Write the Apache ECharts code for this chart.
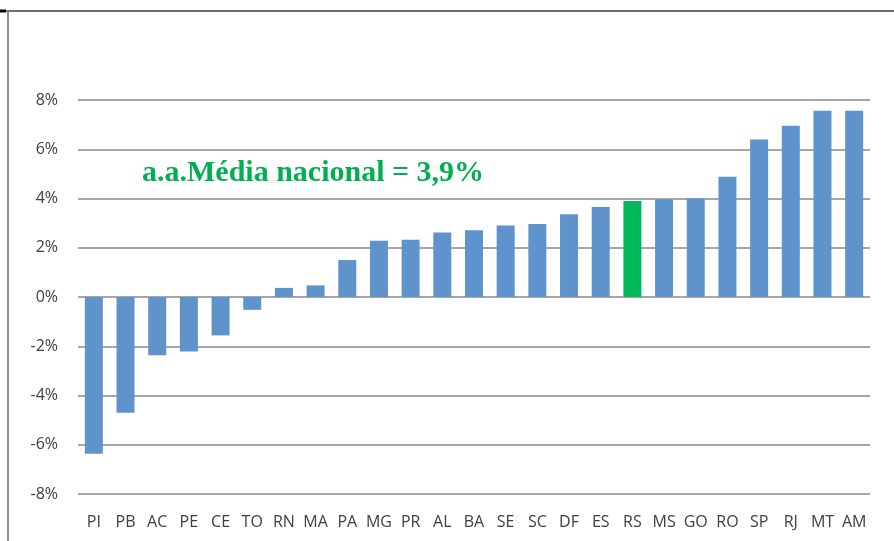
<!DOCTYPE html>
<html>
<head>
<meta charset="utf-8">
<script src="https://cdn.jsdelivr.net/npm/echarts@6/dist/echarts.min.js"></script>
<style>
  html, body { margin: 0; padding: 0; background: #fff; }
  #chart { width: 894px; height: 541px; }
</style>
</head>
<body>
<div id="chart"></div>
<script>
// estados, ordenados pelo crescimento
var states = ["PI", "PB", "AC", "PE", "CE", "TO", "RN", "MA", "PA", "MG", "PR", "AL", "BA",
  "SE", "SC", "DF", "ES", "RS", "MS", "GO", "RO", "SP", "RJ", "MT", "AM"];
var growth = [-6.37, -4.7, -2.37, -2.21, -1.56, -0.52, 0.37, 0.47, 1.5, 2.28, 2.32, 2.62, 2.71,
  2.9, 2.96, 3.36, 3.65, 3.9, 3.97, 4.0, 4.88, 6.4, 6.95, 7.56, 7.56];
var highlight = "RS";
var avgLabel = "a.a.Média nacional = 3,9%";

var chart = echarts.init(document.getElementById("chart"));

var option = {
  animation: false,
  grid: { left: 78, right: 24, top: 100, bottom: 47 },
  xAxis: {
    type: "category",
    data: states,
    axisLine: { show: false },
    axisTick: { show: false },
    axisLabel: {
      color: "#404040",
      fontFamily: "'Liberation Sans Narrow', 'Open Sans'",
      fontSize: 16,
      margin: 20,
      interval: 0
    }
  },
  yAxis: {
    type: "value",
    min: -8,
    max: 8,
    interval: 2,
    axisLine: { show: false },
    axisTick: { show: false },
    axisLabel: {
      formatter: "{value}%",
      color: "#404040",
      fontFamily: "'Liberation Sans Narrow', 'Open Sans'",
      fontSize: 16,
      margin: 20
    },
    splitLine: { lineStyle: { color: "#a6a6a6", width: 2 } }
  },
  series: [{
    type: "bar",
    barWidth: 18,
    data: growth.map(function (v, i) {
      return {
        value: v,
        itemStyle: { color: states[i] === highlight ? "#00b857" : "#5e94cb" }
      };
    })
  }],
  graphic: [
    // moldura
    { type: "line", shape: { x1: 5, y1: 11, x2: 894, y2: 11 }, style: { stroke: "#6e6e6e", lineWidth: 2 } },
    { type: "line", shape: { x1: 0, y1: 11, x2: 6, y2: 11 }, style: { stroke: "#000", lineWidth: 3 } },
    { type: "line", shape: { x1: 8, y1: 11, x2: 8, y2: 541 }, style: { stroke: "#8c8c8c", lineWidth: 2 } },
    {
      type: "text",
      left: 142,
      top: 158,
      style: {
        text: avgLabel,
        fill: "#00b050",
        font: "bold 30px 'Liberation Serif'"
      }
    }
  ]
};

chart.setOption(option);
</script>
</body>
</html>
